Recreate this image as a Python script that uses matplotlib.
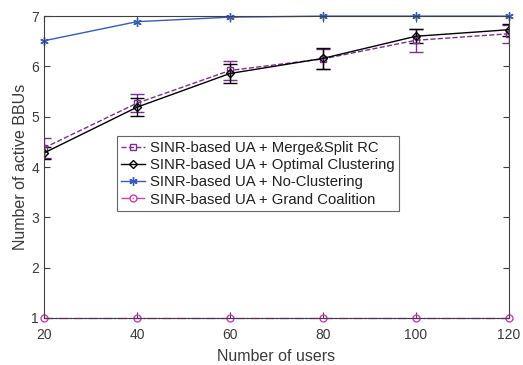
import numpy as np
import matplotlib.pyplot as plt
from matplotlib.lines import Line2D

plt.rcParams['font.family'] = ['Liberation Sans', 'DejaVu Sans']

users = [20, 40, 60, 80, 100, 120]

merge_split = [4.38, 5.27, 5.92, 6.15, 6.52, 6.65]
merge_split_err = [0.20, 0.18, 0.18, 0.20, 0.23, 0.18]

optimal = [4.28, 5.19, 5.86, 6.16, 6.60, 6.73]
optimal_err = [0.12, 0.18, 0.18, 0.21, 0.14, 0.12]

no_clustering = [6.51, 6.89, 6.98, 7.0, 7.0, 7.0]
grand_coalition = [1, 1, 1, 1, 1, 1]

labels = ['SINR-based UA + Merge&Split RC',
          'SINR-based UA + Optimal Clustering',
          'SINR-based UA + No-Clustering',
          'SINR-based UA + Grand Coalition']

purple = '#7E2F8E'
blue = '#3A5BB5'
pink = '#C940B0'
axis_grey = '#404040'
text_grey = '#3a3a3a'
asterisk = (6, 2, 0)

fig = plt.figure(figsize=(5.23, 3.65), dpi=100)
ax = fig.add_axes([0.0841, 0.1288, 0.889, 0.827])

ax.errorbar(users, merge_split, yerr=merge_split_err, color=purple, ls='--',
            lw=1.0, marker='s', ms=4.5, mfc='none', mew=1.0, capsize=5,
            elinewidth=1.0, capthick=1.0)
ax.errorbar(users, optimal, yerr=optimal_err, color='black', ls='-',
            lw=1.0, marker='D', ms=4.5, mfc='none', mew=1.0, capsize=5,
            elinewidth=1.0, capthick=1.0)
ax.plot(users, no_clustering, color=blue, ls='-', lw=1.0, marker=asterisk,
        ms=6, mew=1.0, clip_on=False)
ax.plot(users, grand_coalition, color=pink, ls='-.', lw=1.0, marker='o', ms=5,
        mfc='none', mew=1.0, clip_on=False)

ax.set_xlim(20, 120)
ax.set_ylim(1, 7)
ax.set_xticks(users)
ax.set_yticks(range(1, 8))

for side in ax.spines.values():
    side.set_color(axis_grey)
    side.set_linewidth(0.8)
ax.tick_params(direction='in', length=4, width=0.8, colors=axis_grey,
               labelsize=10, labelcolor=text_grey, top=True, right=True)
ax.tick_params(axis='x', pad=7)

ax.set_xlabel('Number of users', fontsize=11.5, color=text_grey, labelpad=5)
ax.set_ylabel('Number of active BBUs', fontsize=11.5, color=text_grey, labelpad=2)

# legend entries show line + marker only, without the error bars
handles = [
    Line2D([], [], color=purple, ls='--', lw=1.0, marker='s', ms=4.5, mfc='none'),
    Line2D([], [], color='black', ls='-', lw=1.0, marker='D', ms=4.5, mfc='none'),
    Line2D([], [], color=blue, ls='-', lw=1.0, marker=asterisk, ms=6),
    Line2D([], [], color=pink, ls='-.', lw=1.0, marker='o', ms=5, mfc='none'),
]
leg = ax.legend(handles, labels, loc='upper left', bbox_to_anchor=(0.157, 0.602),
                fontsize=10.7, frameon=True, fancybox=False, handlelength=1.6,
                handletextpad=0.3, borderpad=0.3, labelspacing=0.22,
                borderaxespad=0)
leg.get_frame().set_edgecolor(axis_grey)
leg.get_frame().set_linewidth(0.8)
for t in leg.get_texts():
    t.set_color('#202020')

fig.savefig('out.png', dpi=100)
